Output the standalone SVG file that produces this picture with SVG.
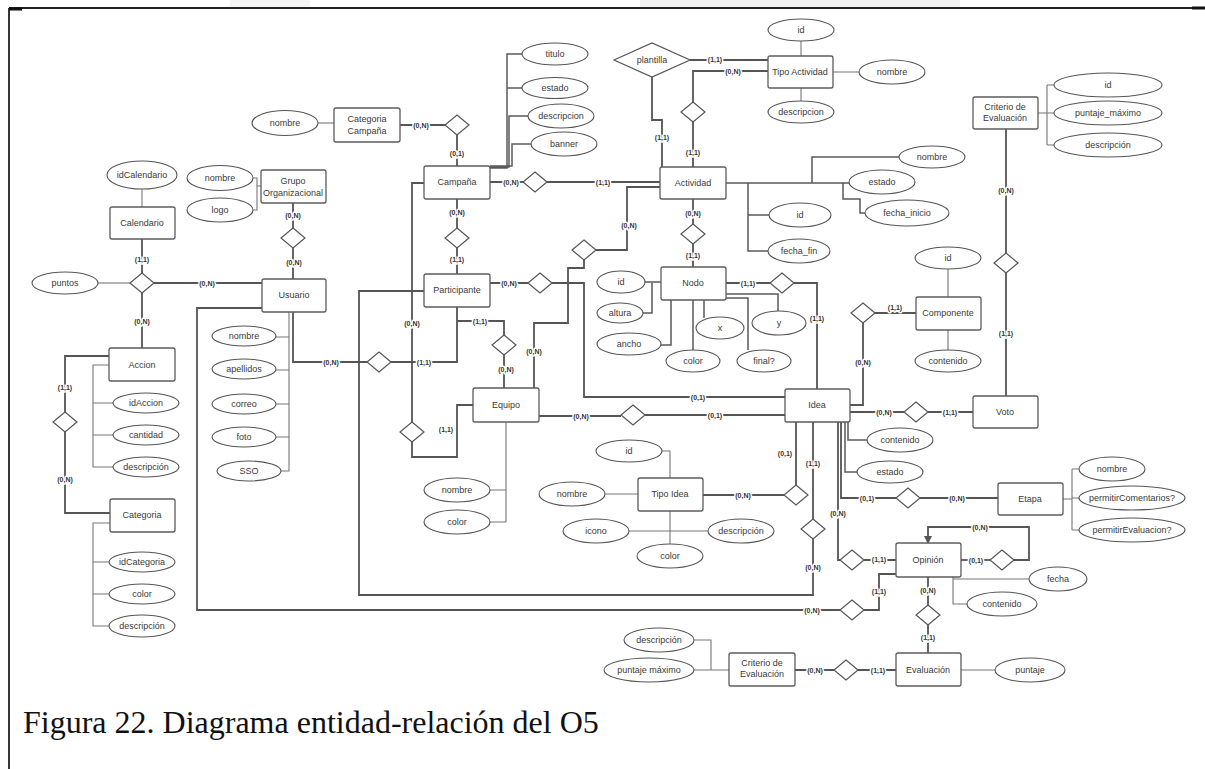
<svg xmlns="http://www.w3.org/2000/svg" xmlns:xlink="http://www.w3.org/1999/xlink" width="1205" height="769" viewBox="0 0 1205 769">
<style>
  .e{fill:#fff;stroke:#5c5c5c;stroke-width:1.3}
  .a{fill:#fff;stroke:#555;stroke-width:1.1}
  .r{fill:#fff;stroke:#555;stroke-width:1.2}
  .t{font-family:"Liberation Sans",Arial,sans-serif;font-size:9px;fill:#3a3a3a;text-anchor:middle}
  .c{font-family:"Liberation Sans",Arial,sans-serif;font-size:7px;font-weight:bold;fill:#333;text-anchor:middle;paint-order:stroke;stroke:#fff;stroke-width:3px;stroke-linejoin:round}
  .lk{fill:none;stroke:#555;stroke-width:1.8}
  .la{fill:none;stroke:#777;stroke-width:1.1}
  .lm{fill:none;stroke:#5a5a5a;stroke-width:1.5}
  .cap{font-family:"Liberation Serif","Times New Roman",serif;font-size:32px;fill:#111}
</style>
<defs>
  <polygon id="dia" class="r" points="0,-10 12,0 0,10 -12,0"/>
  <marker id="arr" markerWidth="8" markerHeight="8" refX="7" refY="4" orient="auto" markerUnits="userSpaceOnUse">
    <path d="M0,0 L8,4 L0,8 Z" fill="#555"/>
  </marker>
</defs>
<rect width="1205" height="769" fill="#fff"/>
<!-- faint band above frame -->
<rect x="230" y="0" width="80" height="7" fill="#f4f4f4"/>
<rect x="640" y="0" width="320" height="7" fill="#f2f2f2"/>
<!-- frame -->
<path d="M9,8 H1195 M9,8 V769" fill="none" stroke="#222" stroke-width="1.8"/>
<path d="M9,9 H22 M1192,8 H1205" fill="none" stroke="#111" stroke-width="3"/>

<!-- attribute links -->
<g id="attr-links" class="la">
  <path d="M318,123 H334"/>
  <path d="M253,178 H257 V210 H253 M257,186 H261"/>
  <path d="M142,189 V207"/>
  <path class="lm" d="M490,168 H507 V54 H522 M507,88 H522 M490,167 H509 V116 H528 M490,166 H512 V144 H531"/>
  <path d="M801,41 V56 M801,88 V101 M833,72 H859"/>
  <path class="lm" d="M726,183 H849 M812,183 V157 H899 M843,183 V199 H860 V213 H865 M748,183 V251 H768 M748,215 H769"/>
  <path d="M1038,113 H1047 M1047,85 V145 M1047,85 H1054 M1047,113 H1054 M1047,145 H1054"/>
  <path d="M289,312 V471 H281 M276,337 H289 M276,370 H289 M276,404 H289 M276,437 H289"/>
  <path d="M109,365 H93 V467 H113 M93,403 H113 M93,435 H113"/>
  <path d="M110,523 H93 V626 H110 M93,562 H110 M93,594 H110"/>
  <path class="lm" d="M645,282 H661 M643,313 H652 V283 M661,345 H671 V300 M693,300 V350 M704,300 V318 M726,294 H778 V311 M726,298 H748 V350"/>
  <path d="M948,269 V297 M948,330 V350"/>
  <path d="M506,422 V522 H490 M490,490 H506"/>
  <path class="lm" d="M848,422 V440 H867 M845,422 V472 H858"/>
  <path d="M662,451 H670 V478 M605,494 H638 M629,531 H708 M670,511 V544"/>
  <path d="M1063,499 H1072 M1072,469 V530 M1072,469 H1079 M1072,498 H1079 M1072,530 H1079"/>
  <path d="M953,577 V604 H967 M953,579 H1029"/>
  <path d="M961,670 H995"/>
  <path d="M694,640 H711 V670 M694,670 H729"/>
  <path d="M98,283 H130"/>
</g>

<!-- relationship connectors -->
<g id="connectors" class="lk">
  <path d="M400,125 H445 M457,135 V166"/>
  <path d="M490,182 H523 M547,182 H660"/>
  <path d="M690,60 H768"/>
  <path d="M652,77 V120 H662 V167"/>
  <path d="M768,71 H693 V102 M693,122 V167"/>
  <path d="M293,203 V228 M293,248 V279"/>
  <path d="M457,199 V228 M457,248 V274"/>
  <path d="M693,199 V224 M693,244 V267"/>
  <path d="M1006,129 V253 M1006,273 V396"/>
  <path d="M142,239 V273 M142,293 V348 M154,283 H262"/>
  <path d="M490,283 H528 M552,283 H584 V397 H785"/>
  <path d="M660,187 H627 V250 H596 M584,260 V268 H568 V323 H534 V388"/>
  <path d="M726,283 H770 M794,283 H817 V389"/>
  <path d="M850,405 H863 V323 M875,313 H916"/>
  <path d="M293,312 V362 H367 M391,362 H457 V307"/>
  <path d="M457,321 H504 V335 M504,355 V388"/>
  <path d="M109,356 H65 V412 M65,432 V513 H110"/>
  <path d="M424,183 H412 V422 M412,442 V457 H457 V405 H473"/>
  <path d="M539,416 H621 M645,415 H785"/>
  <path d="M850,412 H904 M928,412 H973"/>
  <path d="M703,495 H784 M796,485 V422"/>
  <path d="M841,422 V498 H896 M920,498 H998"/>
  <path d="M813,422 V519 M813,539 V595 H359 V291 H424"/>
  <path d="M838,422 V560 H840 M864,560 H896"/>
  <path d="M961,560 H990"/>
  <path d="M1014,560 H1029 V527 H928 V543" marker-end="url(#arr)"/>
  <path d="M262,308 H197 V610 H840 M864,610 H879 V574 H896"/>
  <path d="M928,577 V605 M928,625 V653"/>
  <path d="M795,670 H834 M858,670 H896"/>
</g>

<!-- relationships -->
<g id="relationships">
  <use href="#dia" x="457" y="125"/>
  <use href="#dia" x="693" y="112"/>
  <use href="#dia" x="293" y="238"/>
  <use href="#dia" x="457" y="238"/>
  <use href="#dia" x="535" y="182"/>
  <use href="#dia" x="693" y="234"/>
  <use href="#dia" x="1006" y="263"/>
  <use href="#dia" x="142" y="283"/>
  <use href="#dia" x="540" y="283"/>
  <use href="#dia" x="584" y="250"/>
  <use href="#dia" x="782" y="283"/>
  <use href="#dia" x="863" y="313"/>
  <use href="#dia" x="379" y="362"/>
  <use href="#dia" x="504" y="345"/>
  <use href="#dia" x="65" y="422"/>
  <use href="#dia" x="412" y="432"/>
  <use href="#dia" x="633" y="415"/>
  <use href="#dia" x="916" y="412"/>
  <use href="#dia" x="796" y="495"/>
  <use href="#dia" x="908" y="498"/>
  <use href="#dia" x="813" y="529"/>
  <use href="#dia" x="852" y="560"/>
  <use href="#dia" x="1002" y="560"/>
  <use href="#dia" x="852" y="610"/>
  <use href="#dia" x="928" y="615"/>
  <use href="#dia" x="846" y="670"/>
  <g id="plantilla">
    <polygon class="r" points="614,60 652,43 690,60 652,77"/>
    <text class="t" x="652" y="63">plantilla</text>
  </g>
</g>

<!-- entities -->
<g id="categoria-campana"><rect class="e" x="334" y="108" width="66" height="34" rx="2"/><text class="t" x="367" y="122">Categoria</text><text class="t" x="367" y="134">Campaña</text></g>
<g id="grupo-organizacional"><rect class="e" x="261" y="170" width="65" height="33" rx="2"/><text class="t" x="293" y="184">Grupo</text><text class="t" x="293" y="196">Organizacional</text></g>
<g id="calendario"><rect class="e" x="110" y="207" width="65" height="32" rx="2"/><text class="t" x="142" y="226">Calendario</text></g>
<g id="campana"><rect class="e" x="424" y="166" width="66" height="33" rx="2"/><text class="t" x="457" y="185">Campaña</text></g>
<g id="actividad"><rect class="e" x="660" y="167" width="66" height="32" rx="2"/><text class="t" x="693" y="186">Actividad</text></g>
<g id="tipo-actividad"><rect class="e" x="768" y="56" width="65" height="32" rx="2"/><text class="t" x="800" y="75">Tipo Actividad</text></g>
<g id="criterio-top"><rect class="e" x="973" y="97" width="65" height="32" rx="2"/><text class="t" x="1005" y="110">Criterio de</text><text class="t" x="1005" y="121">Evaluación</text></g>
<g id="usuario"><rect class="e" x="262" y="279" width="64" height="33" rx="2"/><text class="t" x="294" y="298">Usuario</text></g>
<g id="participante"><rect class="e" x="424" y="274" width="66" height="33" rx="2"/><text class="t" x="457" y="293">Participante</text></g>
<g id="nodo"><rect class="e" x="661" y="267" width="65" height="33" rx="2"/><text class="t" x="693" y="286">Nodo</text></g>
<g id="componente"><rect class="e" x="916" y="297" width="65" height="33" rx="2"/><text class="t" x="948" y="316">Componente</text></g>
<g id="accion"><rect class="e" x="109" y="348" width="66" height="33" rx="2"/><text class="t" x="142" y="368">Accion</text></g>
<g id="equipo"><rect class="e" x="473" y="388" width="66" height="34" rx="2"/><text class="t" x="506" y="408">Equipo</text></g>
<g id="idea"><rect class="e" x="785" y="389" width="65" height="33" rx="2"/><text class="t" x="817" y="408">Idea</text></g>
<g id="voto"><rect class="e" x="973" y="396" width="65" height="32" rx="2"/><text class="t" x="1005" y="415">Voto</text></g>
<g id="categoria"><rect class="e" x="110" y="499" width="65" height="33" rx="2"/><text class="t" x="142" y="518">Categoria</text></g>
<g id="tipo-idea"><rect class="e" x="638" y="478" width="65" height="33" rx="2"/><text class="t" x="670" y="497">Tipo Idea</text></g>
<g id="etapa"><rect class="e" x="998" y="483" width="65" height="32" rx="2"/><text class="t" x="1030" y="502">Etapa</text></g>
<g id="opinion"><rect class="e" x="896" y="543" width="65" height="34" rx="2"/><text class="t" x="928" y="563">Opinión</text></g>
<g id="criterio-bottom"><rect class="e" x="729" y="653" width="66" height="33" rx="2"/><text class="t" x="762" y="666">Criterio de</text><text class="t" x="762" y="677">Evaluación</text></g>
<g id="evaluacion"><rect class="e" x="896" y="653" width="65" height="33" rx="2"/><text class="t" x="928" y="673">Evaluación</text></g>

<!-- attributes -->
<g id="attributes">
  <ellipse class="a" cx="285" cy="123" rx="33" ry="12.5"/><text class="t" x="285" y="126">nombre</text>
  <ellipse class="a" cx="220" cy="178" rx="33" ry="12.5"/><text class="t" x="220" y="181">nombre</text>
  <ellipse class="a" cx="220" cy="210" rx="33" ry="12"/><text class="t" x="220" y="213">logo</text>
  <ellipse class="a" cx="142" cy="175" rx="35" ry="14"/><text class="t" x="142" y="178">idCalendario</text>
  <ellipse class="a" cx="555" cy="54" rx="33" ry="11"/><text class="t" x="555" y="57">titulo</text>
  <ellipse class="a" cx="555" cy="88" rx="33" ry="10.5"/><text class="t" x="555" y="91">estado</text>
  <ellipse class="a" cx="561" cy="116" rx="33" ry="12"/><text class="t" x="561" y="119">descripcion</text>
  <ellipse class="a" cx="564" cy="144" rx="33" ry="12"/><text class="t" x="564" y="147">banner</text>
  <ellipse class="a" cx="801" cy="30" rx="33" ry="11"/><text class="t" x="801" y="33">id</text>
  <ellipse class="a" cx="801" cy="112" rx="33" ry="11"/><text class="t" x="801" y="115">descripcion</text>
  <ellipse class="a" cx="892" cy="72" rx="33" ry="12"/><text class="t" x="892" y="75">nombre</text>
  <ellipse class="a" cx="932" cy="157" rx="33" ry="11"/><text class="t" x="932" y="160">nombre</text>
  <ellipse class="a" cx="882" cy="182" rx="33" ry="12"/><text class="t" x="882" y="185">estado</text>
  <ellipse class="a" cx="907" cy="213" rx="42" ry="13"/><text class="t" x="907" y="216">fecha_inicio</text>
  <ellipse class="a" cx="800" cy="215" rx="31" ry="12"/><text class="t" x="800" y="218">id</text>
  <ellipse class="a" cx="799" cy="251" rx="31" ry="12"/><text class="t" x="799" y="254">fecha_fin</text>
  <ellipse class="a" cx="1108" cy="85" rx="54" ry="12"/><text class="t" x="1108" y="88">id</text>
  <ellipse class="a" cx="1108" cy="113" rx="54" ry="12"/><text class="t" x="1108" y="116">puntaje_máximo</text>
  <ellipse class="a" cx="1108" cy="145" rx="54" ry="12"/><text class="t" x="1108" y="148">descripción</text>
  <ellipse class="a" cx="65" cy="283" rx="33" ry="11"/><text class="t" x="65" y="286">puntos</text>
  <ellipse class="a" cx="244" cy="336" rx="32" ry="10"/><text class="t" x="244" y="339">nombre</text>
  <ellipse class="a" cx="244" cy="369" rx="32" ry="10"/><text class="t" x="244" y="372">apellidos</text>
  <ellipse class="a" cx="244" cy="404" rx="32" ry="10"/><text class="t" x="244" y="407">correo</text>
  <ellipse class="a" cx="244" cy="437" rx="32" ry="10"/><text class="t" x="244" y="440">foto</text>
  <ellipse class="a" cx="249" cy="471" rx="32" ry="10"/><text class="t" x="249" y="474">SSO</text>
  <ellipse class="a" cx="146" cy="403" rx="33" ry="10"/><text class="t" x="146" y="406">idAccion</text>
  <ellipse class="a" cx="146" cy="435" rx="33" ry="10"/><text class="t" x="146" y="438">cantidad</text>
  <ellipse class="a" cx="146" cy="467" rx="33" ry="10"/><text class="t" x="146" y="470">descripción</text>
  <ellipse class="a" cx="142" cy="562" rx="33" ry="10"/><text class="t" x="142" y="565">idCategoria</text>
  <ellipse class="a" cx="142" cy="594" rx="33" ry="10"/><text class="t" x="142" y="597">color</text>
  <ellipse class="a" cx="142" cy="626" rx="33" ry="11"/><text class="t" x="142" y="629">descripción</text>
  <ellipse class="a" cx="621" cy="282" rx="24" ry="11"/><text class="t" x="621" y="285">id</text>
  <ellipse class="a" cx="620" cy="313" rx="23" ry="10"/><text class="t" x="620" y="316">altura</text>
  <ellipse class="a" cx="629" cy="344" rx="32" ry="11"/><text class="t" x="629" y="347">ancho</text>
  <ellipse class="a" cx="693" cy="361" rx="27" ry="11"/><text class="t" x="693" y="364">color</text>
  <ellipse class="a" cx="720" cy="328" rx="24" ry="11"/><text class="t" x="720" y="331">x</text>
  <ellipse class="a" cx="779" cy="323" rx="27" ry="12"/><text class="t" x="779" y="326">y</text>
  <ellipse class="a" cx="764" cy="361" rx="27" ry="11"/><text class="t" x="764" y="364">final?</text>
  <ellipse class="a" cx="948" cy="258" rx="33" ry="11"/><text class="t" x="948" y="261">id</text>
  <ellipse class="a" cx="948" cy="361" rx="33" ry="11"/><text class="t" x="948" y="364">contenido</text>
  <ellipse class="a" cx="457" cy="490" rx="33" ry="12"/><text class="t" x="457" y="493">nombre</text>
  <ellipse class="a" cx="457" cy="522" rx="33" ry="12"/><text class="t" x="457" y="525">color</text>
  <ellipse class="a" cx="900" cy="440" rx="33" ry="12"/><text class="t" x="900" y="443">contenido</text>
  <ellipse class="a" cx="890" cy="472" rx="33" ry="11"/><text class="t" x="890" y="475">estado</text>
  <ellipse class="a" cx="629" cy="451" rx="33" ry="11"/><text class="t" x="629" y="454">id</text>
  <ellipse class="a" cx="572" cy="494" rx="33" ry="12"/><text class="t" x="572" y="497">nombre</text>
  <ellipse class="a" cx="596" cy="531" rx="33" ry="12"/><text class="t" x="596" y="534">icono</text>
  <ellipse class="a" cx="741" cy="531" rx="33" ry="12"/><text class="t" x="741" y="534">descripción</text>
  <ellipse class="a" cx="670" cy="556" rx="33" ry="12"/><text class="t" x="670" y="559">color</text>
  <ellipse class="a" cx="1112" cy="469" rx="33" ry="12"/><text class="t" x="1112" y="472">nombre</text>
  <ellipse class="a" cx="1132" cy="498" rx="53" ry="12"/><text class="t" x="1132" y="501">permitirComentarios?</text>
  <ellipse class="a" cx="1132" cy="530" rx="53" ry="12"/><text class="t" x="1132" y="533">permitirEvaluacion?</text>
  <ellipse class="a" cx="1058" cy="579" rx="29" ry="12"/><text class="t" x="1058" y="582">fecha</text>
  <ellipse class="a" cx="1002" cy="604" rx="35" ry="12"/><text class="t" x="1002" y="607">contenido</text>
  <ellipse class="a" cx="1030" cy="670" rx="35" ry="12"/><text class="t" x="1030" y="673">puntaje</text>
  <ellipse class="a" cx="659" cy="640" rx="35" ry="12"/><text class="t" x="659" y="643">descripción</text>
  <ellipse class="a" cx="649" cy="670" rx="45" ry="12"/><text class="t" x="649" y="673">puntaje máximo</text>
</g>

<!-- cardinalities -->
<g id="cardinalities">
  <text class="c" x="421" y="127.5">(0,N)</text>
  <text class="c" x="457" y="155.5">(0,1)</text>
  <text class="c" x="293" y="217.5">(0,N)</text>
  <text class="c" x="457" y="214.5">(0,N)</text>
  <text class="c" x="457" y="261.5">(1,1)</text>
  <text class="c" x="511" y="184.5">(0,N)</text>
  <text class="c" x="603" y="184.5">(1,1)</text>
  <text class="c" x="715" y="61.5">(1,1)</text>
  <text class="c" x="733" y="73.5">(0,N)</text>
  <text class="c" x="662" y="139.5">(1,1)</text>
  <text class="c" x="693" y="154.5">(1,1)</text>
  <text class="c" x="629" y="227.5">(0,N)</text>
  <text class="c" x="693" y="215.5">(0,N)</text>
  <text class="c" x="693" y="257.5">(1,1)</text>
  <text class="c" x="1006" y="192.5">(0,N)</text>
  <text class="c" x="1006" y="335.5">(1,1)</text>
  <text class="c" x="142" y="261.5">(1,1)</text>
  <text class="c" x="142" y="323.5">(0,N)</text>
  <text class="c" x="207" y="285.5">(0,N)</text>
  <text class="c" x="294" y="264.5">(0,N)</text>
  <text class="c" x="509" y="285.5">(0,N)</text>
  <text class="c" x="698" y="399.5">(0,1)</text>
  <text class="c" x="748" y="285.5">(1,1)</text>
  <text class="c" x="817" y="320.5">(1,1)</text>
  <text class="c" x="895" y="309.5">(1,1)</text>
  <text class="c" x="863" y="364.5">(0,N)</text>
  <text class="c" x="331" y="364.5">(0,N)</text>
  <text class="c" x="424" y="364.5">(1,1)</text>
  <text class="c" x="480" y="323.5">(1,1)</text>
  <text class="c" x="506" y="371.5">(0,N)</text>
  <text class="c" x="412" y="325.5">(0,N)</text>
  <text class="c" x="446" y="431.5">(1,1)</text>
  <text class="c" x="534" y="353.5">(0,N)</text>
  <text class="c" x="581" y="418.5">(0,N)</text>
  <text class="c" x="715" y="417.5">(0,1)</text>
  <text class="c" x="884" y="414.5">(0,N)</text>
  <text class="c" x="950" y="414.5">(1,1)</text>
  <text class="c" x="65" y="389.5">(1,1)</text>
  <text class="c" x="65" y="481.5">(0,N)</text>
  <text class="c" x="785" y="455.5">(0,1)</text>
  <text class="c" x="813" y="465.5">(1,1)</text>
  <text class="c" x="743" y="497.5">(0,N)</text>
  <text class="c" x="838" y="515.5">(0,N)</text>
  <text class="c" x="867" y="500.5">(0,1)</text>
  <text class="c" x="957" y="500.5">(0,N)</text>
  <text class="c" x="813" y="569.5">(0,N)</text>
  <text class="c" x="879" y="561.5">(1,1)</text>
  <text class="c" x="976" y="562.5">(0,1)</text>
  <text class="c" x="980" y="529.5">(0,N)</text>
  <text class="c" x="812" y="612.5">(0,N)</text>
  <text class="c" x="879" y="593.5">(1,1)</text>
  <text class="c" x="928" y="592.5">(0,N)</text>
  <text class="c" x="928" y="639.5">(1,1)</text>
  <text class="c" x="815" y="672.5">(0,N)</text>
  <text class="c" x="878" y="672.5">(1,1)</text>
</g>

<text class="cap" x="23" y="733">Figura 22. Diagrama entidad-relación del O5</text>
</svg>
